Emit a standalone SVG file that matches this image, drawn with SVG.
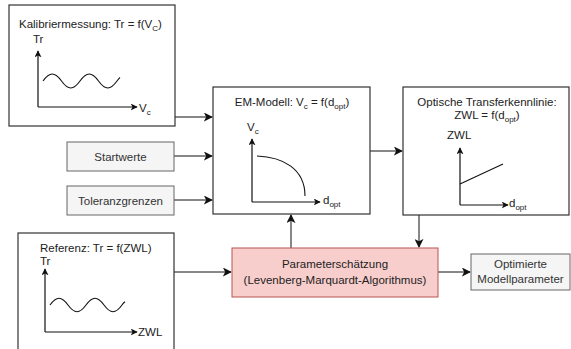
<svg xmlns="http://www.w3.org/2000/svg" width="571" height="349" viewBox="0 0 571 349">
<defs>
<style>
.box{fill:#ffffff;stroke:#333333;stroke-width:1.2}
.gray{fill:#f5f5f5;stroke:#666666;stroke-width:1}
.pink{fill:#f8cecc;stroke:#b85450;stroke-width:1}
.t{font-family:"Liberation Sans",Arial,sans-serif;font-size:11.5px;fill:#222222}
.tg{font-family:"Liberation Sans",Arial,sans-serif;font-size:11.5px;fill:#333333}
.m{text-anchor:middle}
.sub{font-size:8px}
.conn{fill:none;stroke:#111111;stroke-width:1}
.axis{fill:none;stroke:#111111;stroke-width:1.2}
.curve{fill:none;stroke:#111111;stroke-width:1.1}
</style>
<marker id="arr" viewBox="0 0 10 10" refX="9" refY="5" markerWidth="9" markerHeight="9" markerUnits="userSpaceOnUse" orient="auto">
<path d="M0,0 L10,5 L0,10 L2.5,5 Z" fill="#111111"/>
</marker>
<marker id="ax" viewBox="0 0 10 10" refX="9" refY="5" markerWidth="7" markerHeight="7" markerUnits="userSpaceOnUse" orient="auto">
<path d="M0,0 L10,5 L0,10 L2.5,5 Z" fill="#111111"/>
</marker>
</defs>

<g id="connectors">
<path class="conn" d="M175,117 H212" marker-end="url(#arr)"/>
<path class="conn" d="M174,156 H212" marker-end="url(#arr)"/>
<path class="conn" d="M174,200 H212" marker-end="url(#arr)"/>
<path class="conn" d="M370,151 H402" marker-end="url(#arr)"/>
<path class="conn" d="M291,248 V215" marker-end="url(#arr)"/>
<path class="conn" d="M419,215 V247" marker-end="url(#arr)"/>
<path class="conn" d="M174,272 H231" marker-end="url(#arr)"/>
<path class="conn" d="M438,272 H470" marker-end="url(#arr)"/>
</g>

<g id="kalibrier">
<rect class="box" x="9" y="5" width="166" height="121"/>
<text class="t" x="19" y="28">Kalibriermessung: Tr = f(V<tspan class="sub" dy="3">C</tspan><tspan dy="-3">)</tspan></text>
<text class="t" x="33" y="43">Tr</text>
<path class="axis" d="M38,107 V51" marker-end="url(#ax)"/>
<path class="axis" d="M38,107 H137" marker-end="url(#ax)"/>
<text class="t" x="139" y="112">V<tspan class="sub" dy="3">c</tspan></text>
<path class="curve" d="M43,81 C49.7,71.7 54.8,71.7 61.5,81 C68.2,90.3 73.3,90.3 80,81 C86.7,71.7 91.8,71.7 98.5,81 C105.2,90.3 110.3,90.3 117,81 C118,79.6 119,78.3 120,77.5"/>
</g>

<g id="startwerte">
<rect class="gray" x="67" y="142" width="107" height="29"/>
<text class="tg m" x="120.5" y="160.5">Startwerte</text>
</g>

<g id="toleranz">
<rect class="gray" x="67" y="186" width="107" height="29"/>
<text class="tg m" x="120.5" y="204.5">Toleranzgrenzen</text>
</g>

<g id="em-modell">
<rect class="box" x="213" y="87" width="157" height="127"/>
<text class="t m" x="292" y="106">EM-Modell: V<tspan class="sub" dy="3">c</tspan><tspan dy="-3"> = f(d</tspan><tspan class="sub" dy="3">opt</tspan><tspan dy="-3">)</tspan></text>
<text class="t" x="247" y="131">V<tspan class="sub" dy="3">c</tspan></text>
<path class="axis" d="M252,202 V139" marker-end="url(#ax)"/>
<path class="axis" d="M252,202 H320" marker-end="url(#ax)"/>
<text class="t" x="323" y="204">d<tspan class="sub" dy="3">opt</tspan></text>
<path class="curve" d="M257,156 C282,157 305,168 305,196"/>
</g>

<g id="optisch">
<rect class="box" x="403" y="87" width="166" height="128"/>
<text class="t m" x="487" y="106">Optische Transferkennlinie:</text>
<text class="t m" x="487" y="119">ZWL = f(d<tspan class="sub" dy="3">opt</tspan><tspan dy="-3">)</tspan></text>
<text class="t" x="447" y="139">ZWL</text>
<path class="axis" d="M460,205 V148" marker-end="url(#ax)"/>
<path class="axis" d="M460,205 H508" marker-end="url(#ax)"/>
<text class="t" x="509" y="207">d<tspan class="sub" dy="3">opt</tspan></text>
<path class="curve" d="M460,184 L503,164"/>
</g>

<g id="referenz">
<rect class="box" x="18" y="233" width="156" height="130"/>
<text class="t" x="40" y="252">Referenz: Tr = f(ZWL)</text>
<text class="t" x="40" y="265">Tr</text>
<path class="axis" d="M45,332 V269" marker-end="url(#ax)"/>
<path class="axis" d="M45,332 H137" marker-end="url(#ax)"/>
<text class="t" x="138" y="336">ZWL</text>
<path class="curve" d="M50,305 C56.5,296 61.5,296 68,305 C74.5,314 79.5,314 86,305 C92.5,296 97.5,296 104,305 C110.5,314 115.5,314 122,305 C123,303.6 124,302.5 125,301.8"/>
</g>

<g id="parameter">
<rect class="pink" x="232" y="248" width="206" height="49"/>
<text class="t m" x="335" y="268">Parameterschätzung</text>
<text class="t m" x="335" y="284">(Levenberg-Marquardt-Algorithmus)</text>
</g>

<g id="optimiert">
<rect class="gray" x="471" y="254" width="99" height="36"/>
<text class="tg m" x="520.5" y="268">Optimierte</text>
<text class="tg m" x="520.5" y="283">Modellparameter</text>
</g>
</svg>
